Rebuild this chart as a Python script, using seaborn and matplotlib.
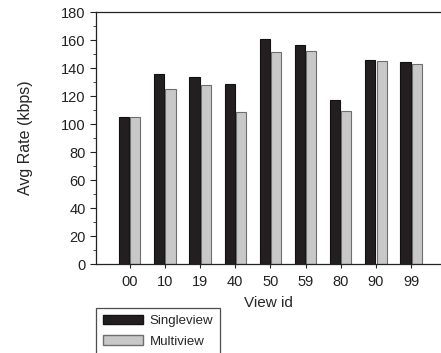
import numpy as np
import pandas as pd
import matplotlib
matplotlib.use("Agg")
import matplotlib.pyplot as plt
from matplotlib.ticker import MultipleLocator
from matplotlib.patches import Patch
import seaborn as sns

view_ids = ["00", "10", "19", "40", "50", "59", "80", "90", "99"]
singleview = [105.2, 135.7, 133.8, 128.3, 160.5, 156.4, 117.1, 145.7, 144.0]
multiview = [105.0, 124.8, 127.9, 108.6, 151.2, 151.9, 109.5, 145.2, 142.6]
series = ["Singleview", "Multiview"]

df = pd.DataFrame({
    "View id": view_ids * 2,
    "Avg Rate": singleview + multiview,
    "Series": [series[0]] * len(view_ids) + [series[1]] * len(view_ids),
})

sns.set_style("ticks")
plt.rcParams["font.family"] = ["Liberation Sans", "DejaVu Sans"]

fig = plt.figure(figsize=(4.41, 3.53), dpi=100)
ax = fig.add_axes([96 / 441, 1 - 264 / 353, 1 - 96 / 441, 252 / 353])

palette = {"Singleview": "#231f20", "Multiview": "#c8c8c8"}
sns.barplot(data=df, x="View id", y="Avg Rate", hue="Series", order=view_ids,
            hue_order=series, palette=palette, width=0.64, gap=0.1,
            saturation=1, legend=False, ax=ax)

# edge colours: black for single, darker grey for multi
for i, patch in enumerate(ax.patches[:2 * len(view_ids)]):
    if i < len(view_ids):
        patch.set_edgecolor("#111111")
    else:
        patch.set_edgecolor("#6e6e6e")
    patch.set_linewidth(0.8)

ax.set_ylim(0, 180)
ax.set_xlim(-0.96, 8.85)
ax.yaxis.set_major_locator(MultipleLocator(20))
ax.yaxis.set_minor_locator(MultipleLocator(10))
ax.tick_params(axis="y", which="major", length=4, width=0.8, labelsize=10.5, colors="#222222")
ax.tick_params(axis="y", which="minor", length=2, width=0.6)
ax.tick_params(axis="x", length=3, width=0.8, labelsize=10.5, pad=5, colors="#222222")
ax.spines["right"].set_visible(False)
for s in ["left", "top", "bottom"]:
    ax.spines[s].set_linewidth(0.9)
    ax.spines[s].set_color("#222222")

ax.set_xlabel("View id", fontsize=11, labelpad=5)
ax.set_ylabel("Avg Rate (kbps)", fontsize=11.5, labelpad=20)

handles = [Patch(facecolor=palette["Singleview"], edgecolor="#111111", label="Singleview"),
           Patch(facecolor=palette["Multiview"], edgecolor="#6e6e6e", label="Multiview")]
leg = fig.legend(handles=handles, loc="upper left", bbox_to_anchor=(96 / 441, 1 - 308 / 353),
                 frameon=True, fancybox=False, fontsize=9.5, handlelength=3.0,
                 handleheight=0.7, borderpad=0.55, labelspacing=0.6, handletextpad=0.5,
                 borderaxespad=0)
leg.get_frame().set_edgecolor("#222222")
leg.get_frame().set_linewidth(0.9)

fig.savefig("out.png", dpi=100)
